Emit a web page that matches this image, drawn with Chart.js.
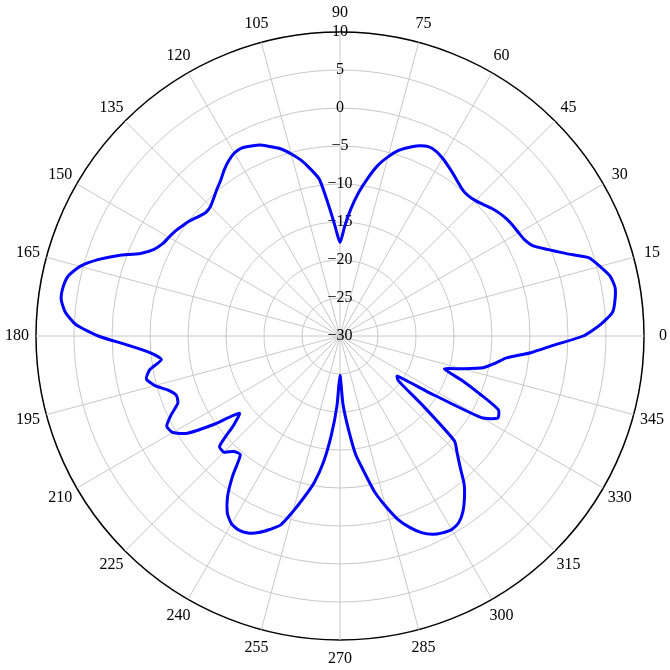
<!DOCTYPE html>
<html>
<head>
<meta charset="utf-8">
<script src="https://cdn.jsdelivr.net/npm/chart.js@4/dist/chart.umd.min.js"></script>
<style>
  html, body { margin: 0; padding: 0; background: #fff; overflow: hidden; }
  #wrap { width: 670px; height: 670px; }
</style>
</head>
<body>
<div id="wrap"><canvas id="polarChart"></canvas></div>
<script>
/* pattern data, one value every 2.5 degrees starting at 0 (counter-clockwise) */
var angleStep = 2.5;
var gainDb = [
    2.0, 4.3, 6.0, 6.5, 6.75, 6.4, 5.4, 4.3, 1.7, -0.3,        // 0 .. 22.5
    -1.95, -2.6, -2.85, -3.0, -3.2, -3.5, -3.9, -4.4, -4.8, -5.0, // 25 .. 47.5
    -4.9, -4.5, -4.0, -3.5, -3.0, -2.6, -2.5, -2.9, -3.6, -4.4,  // 50 .. 72.5
    -5.6, -7.0, -8.9, -10.9, -13.1, -15.5, -17.7, -15.6, -12.7, -9.2, // 75 .. 97.5
    -7.7, -6.3, -5.2, -4.2, -3.5, -2.8, -2.4, -2.1, -2.2, -2.7,  // 100 .. 122.5
    -3.4, -4.2, -4.8, -5.4, -5.9, -6.0, -5.6, -5.1, -4.7, -4.3,  // 125 .. 147.5
    -4.0, -3.7, -3.0, -1.6, 1.0, 3.4, 5.4, 6.6, 7.0, 7.0,        // 150 .. 172.5
    6.3, 4.8, 1.8, -2.1, -4.9, -6.3, -4.6, -3.9, -4.8, -6.3,     // 175 .. 197.5
    -7.1, -6.9, -5.5, -4.3, -4.6, -6.2, -9.7, -13.3, -11.7, -8.5, // 200 .. 222.5
    -8.4, -9.4, -9.6, -6.8, -4.2, -2.4, -1.45, -1.2, -1.4, -2.0, // 225 .. 247.5
    -2.9, -3.9, -6.1, -8.3, -10.4, -13.2, -16.9, -20.8, -24.8, -21.0, // 250 .. 272.5
    -17.9, -14.3, -11.9, -9.0, -6.8, -4.7, -3.2, -2.0, -1.2, -0.8, // 275 .. 297.5
    -0.6, -0.9, -1.8, -3.1, -4.6, -6.6, -8.2, -9.6, -15.8, -20.3, // 300 .. 322.5
    -20.8, -16.4, -8.5, -6.6, -7.0, -10.1, -12.9, -15.6, -13.3, -10.7, // 325 .. 347.5
    -9.3, -7.9, -4.8, -1.9                                         // 350 .. 357.5
];
var angleTicks = [0, 15, 30, 45, 60, 75, 90, 105, 120, 135, 150, 165,
                  180, 195, 210, 225, 240, 255, 270, 285, 300, 315, 330, 345];
var radialMin = -30;
var radialMax = 10;
var radialStep = 5;

/* radar goes clockwise from the top, so start at 90 and walk down */
var labels = [];
var values = [];
for (var i = 0; i < gainDb.length; i++) {
    var ang = ((90 - i * angleStep) % 360 + 360) % 360;
    labels.push(ang);
    values.push(gainDb[Math.round(ang / angleStep)]);
}

var serif = "'Liberation Serif', 'Times New Roman', serif";
var fontSize = 16;
var labelGap = 19;
var gridGrey = '#c8c8c8';

/* angle labels centred just outside the outer ring */
var angleLabelPlugin = {
    id: 'angleLabels',
    afterDraw: function(chart) {
        var scale = chart.scales.r;
        var c = chart.ctx;
        c.save();
        c.font = fontSize + 'px ' + serif;
        c.fillStyle = '#000';
        c.textAlign = 'center';
        c.textBaseline = 'middle';
        labels.forEach(function(ang, idx) {
            if (angleTicks.indexOf(ang) < 0) return;
            var p = scale.getPointPosition(idx, scale.drawingArea + labelGap);
            c.fillText(String(ang), p.x, p.y);
        });
        c.restore();
    }
};

var ctx = document.getElementById('polarChart').getContext('2d');
new Chart(ctx, {
    type: 'radar',
    data: {
        labels: labels,
        datasets: [{
            data: values,
            borderColor: '#0000ff',
            borderWidth: 3,
            pointRadius: 0,
            pointHoverRadius: 0,
            fill: false,
            tension: 0.2
        }]
    },
    options: {
        responsive: true,
        maintainAspectRatio: false,
        animation: false,
        layout: {
            padding: { left: 28, right: 17, top: 23.5, bottom: 21.5 }
        },
        plugins: {
            legend: { display: false },
            tooltip: { enabled: false }
        },
        scales: {
            r: {
                min: radialMin,
                max: radialMax,
                startAngle: 0,
                ticks: {
                    stepSize: radialStep,
                    color: '#000',
                    showLabelBackdrop: false,
                    backdropPadding: 0,
                    font: { family: serif, size: fontSize },
                    callback: function(v) { return String(v).replace('-', '\u2212'); }
                },
                grid: {
                    circular: true,
                    color: function(c) { return c.tick && c.tick.value === radialMax ? '#000' : gridGrey; },
                    lineWidth: function(c) { return c.tick && c.tick.value === radialMax ? 1.5 : 1; }
                },
                angleLines: {
                    color: function(c) {
                        return angleTicks.indexOf(labels[c.index]) >= 0 ? gridGrey : 'rgba(0,0,0,0)';
                    }
                },
                pointLabels: {
                    display: false,
                    callback: function(label) {
                        return angleTicks.indexOf(label) >= 0 ? String(label) : '';
                    }
                }
            }
        }
    },
    plugins: [angleLabelPlugin]
});
</script>
</body>
</html>
